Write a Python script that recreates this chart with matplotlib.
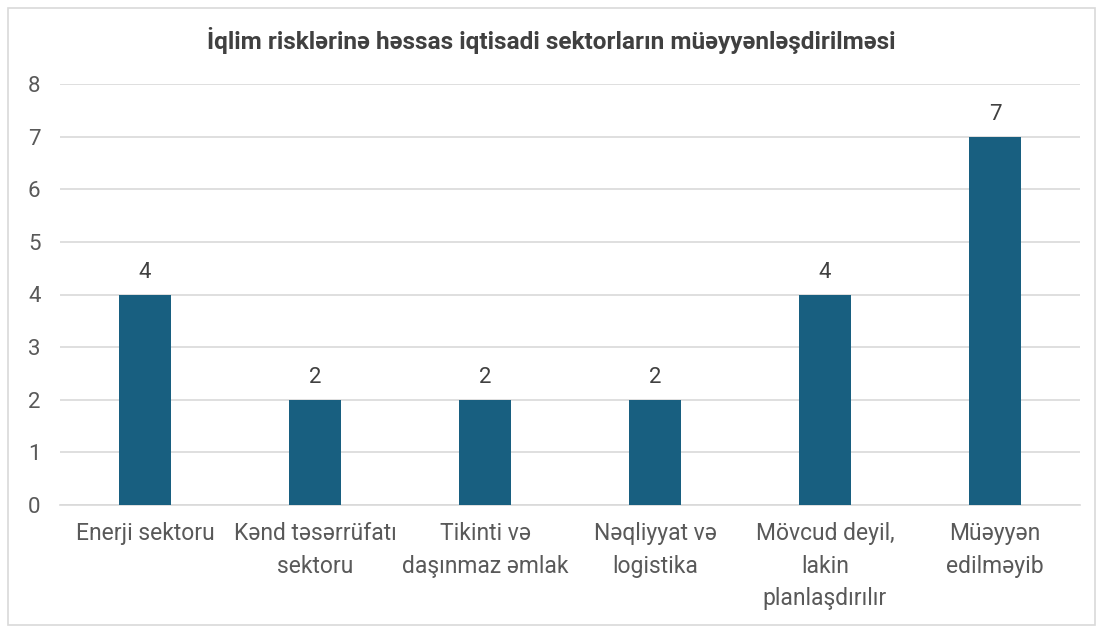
import matplotlib
matplotlib.use("Agg")
import matplotlib.pyplot as plt
from matplotlib.patches import Rectangle

categories = ["Enerji sektoru", "Kənd təsərrüfatı\nsektoru", "Tikinti və\ndaşınmaz əmlak",
              "Nəqliyyat və\nlogistika", "Mövcud deyil,\nlakin\nplanlaşdırılır", "Müəyyən\nedilməyib"]
values = [4, 2, 2, 2, 4, 7]
title = "İqlim risklərinə həssas iqtisadi sektorların müəyyənləşdirilməsi"

plt.rcParams['font.family'] = ['Roboto', 'DejaVu Sans']

fig = plt.figure(figsize=(11.03, 6.27), dpi=100)
fig.patches.append(Rectangle((8/1103, 2/627), 1087/1103, 617/627, transform=fig.transFigure,
                             fill=False, edgecolor='#d9d9d9', linewidth=1.2))
ax = fig.add_axes([60/1103, 1-505/627, 1020/1103, 421/627])

x = range(len(categories))
bars = ax.bar(x, values, width=0.31, color='#185f80', zorder=3)
for xi, v in zip(x, values):
    ax.text(xi, v + 0.22, str(v), ha='center', va='bottom', fontsize=16, color='#404040')

ax.set_xlim(-0.5, len(categories) - 0.5)
ax.set_ylim(0, 8)
ax.set_yticks(range(0, 9))
ax.yaxis.grid(True, color='#d9d9d9', linewidth=1.2, zorder=0)
ax.set_xticks(list(x))
ax.set_xticklabels(categories, fontsize=16.5, color='#595959', linespacing=1.55)
ax.tick_params(axis='y', labelsize=16, labelcolor='#595959', length=0, pad=14)
ax.tick_params(axis='x', length=0, pad=12)
for s in ['top', 'right', 'left']:
    ax.spines[s].set_visible(False)
ax.spines['bottom'].set_color('#d9d9d9')
ax.spines['bottom'].set_linewidth(1.2)

fig.text(0.5, 1-40/627, title, ha='center', va='center', fontsize=17.6, fontweight='bold', color='#404040')

fig.savefig("out.png", dpi=100)
